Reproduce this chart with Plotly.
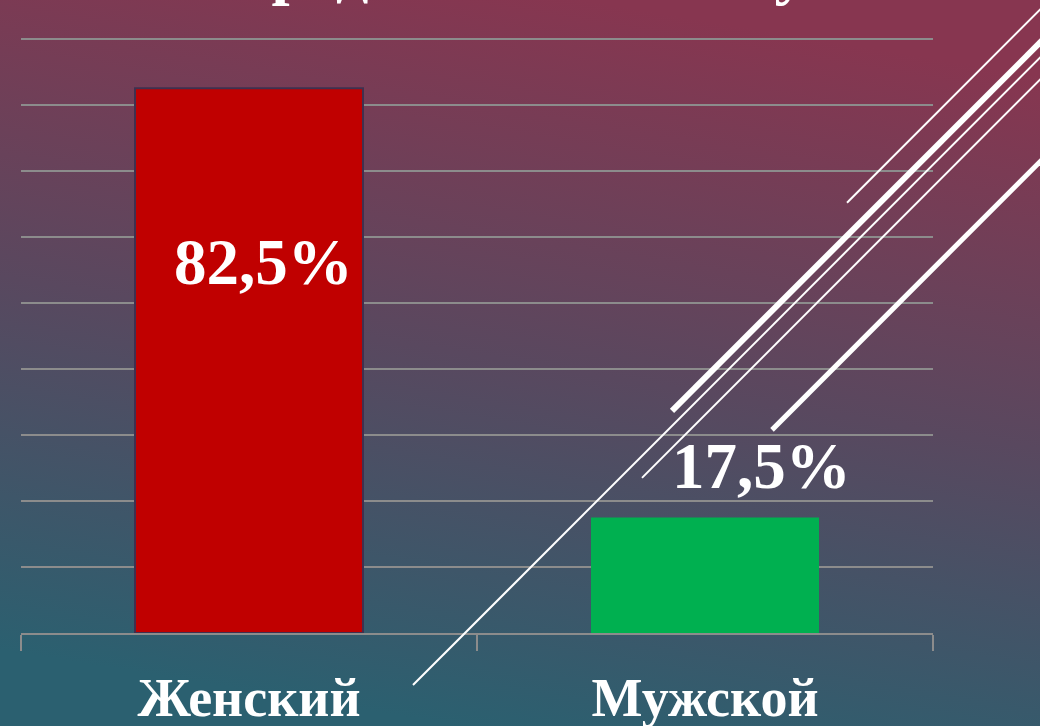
import base64
import plotly.graph_objects as go

# ---- data ----
categories = ["Женский", "Мужской"]
values = [82.5, 17.5]
bar_colors = ["#C00000", "#00B050"]
title_text = "Распределение по полу"
y_max = 90
y_step = 10

# ---- layout geometry (pixels) ----
W, H = 1040, 726
UNIT = 6.6            # pixels per percent
PAD_TOP = 1           # extra range above the top gridline (units)
ML, MR, MB = 21, 107, 93
MT = H - MB - UNIT * (y_max + PAD_TOP)
PW, PH = W - ML - MR, H - MT - MB


def px_to_paper(px, py):
    return (px - ML) / PW, (H - MB - py) / PH


# background gradient as an svg image
svg = f"""<svg xmlns='http://www.w3.org/2000/svg' width='{W}' height='{H}' viewBox='0 0 {W} {H}' preserveAspectRatio='none'>
<defs><linearGradient id='g' gradientUnits='userSpaceOnUse' x1='580' y1='0' x2='460' y2='{H}'>
<stop offset='0' stop-color='#873650'/>
<stop offset='0.5' stop-color='#59485F'/>
<stop offset='1' stop-color='#2B6070'/>
</linearGradient></defs>
<rect width='{W}' height='{H}' fill='url(#g)'/></svg>"""
bg_src = "data:image/svg+xml;base64," + base64.b64encode(svg.encode()).decode()

fig = go.Figure()
fig.add_trace(go.Bar(
    x=categories, y=values,
    marker=dict(color=bar_colors, line=dict(color=["#40304F", "rgba(0,0,0,0)"], width=[2, 0])),
    width=0.5, hoverinfo="skip",
))

serif = "Times New Roman, Liberation Serif, serif"

# value labels
label_y = [56.2, 25.3]
label_xshift = [14, 56]
annotations = []
for c, v, ly, xs in zip(categories, values, label_y, label_xshift):
    annotations.append(dict(
        x=c, y=ly, xref="x", yref="y", xshift=xs,
        text=f"{v:.1f}".replace(".", ",") + "%",
        showarrow=False, xanchor="center", yanchor="middle",
        font=dict(family=serif, size=65, color="white", weight="bold"),
    ))

# title (mostly cut off at the top, as in the reference)
tx, ty = px_to_paper(470, -30)
annotations.append(dict(
    x=tx, y=ty, xref="paper", yref="paper", text=title_text, showarrow=False,
    xanchor="center", yanchor="middle",
    font=dict(family=serif, size=65, color="white", weight="bold"),
))

# decorative diagonal lines (pixel endpoints, widths)
deco = [
    ((847, 203), (1060, -10), 2),
    ((672, 411), (1080, 3), 6),
    ((413, 685), (1080, 18), 2),
    ((642, 478), (1080, 40), 2),
    ((772, 430), (1080, 122), 5),
]
shapes = []
for (x0, y0), (x1, y1), w in deco:
    a0, b0 = px_to_paper(x0, y0)
    a1, b1 = px_to_paper(x1, y1)
    shapes.append(dict(type="line", xref="paper", yref="paper",
                       x0=a0, y0=b0, x1=a1, y1=b1,
                       line=dict(color="white", width=w), layer="above"))

ix, iy = px_to_paper(0, 0)
fig.update_layout(
    width=W, height=H,
    margin=dict(l=ML, r=MR, t=MT, b=MB, autoexpand=False),
    paper_bgcolor="#58485F", plot_bgcolor="rgba(0,0,0,0)",
    showlegend=False,
    images=[dict(source=bg_src, xref="paper", yref="paper", x=ix, y=iy,
                 sizex=W / PW, sizey=H / PH, xanchor="left", yanchor="top",
                 sizing="stretch", layer="below")],
    annotations=annotations,
    shapes=shapes,
    xaxis=dict(
        automargin=False,
        showgrid=False, showline=True, linecolor="#8C8C8C", linewidth=2,
        ticks="outside", tickson="boundaries", ticklen=16, tickwidth=2, tickcolor="#8C8C8C",
        tickfont=dict(family=serif, size=54, color="white", weight="bold"),
        ticklabelstandoff=16,
    ),
    yaxis=dict(
        automargin=False,
        range=[0, y_max + PAD_TOP], tick0=0, dtick=y_step,
        showgrid=True, gridcolor="#8C8C8C", gridwidth=2,
        showticklabels=False, zeroline=False, showline=False,
    ),
)

fig.write_html(
    "out.html",
    config={"displayModeBar": False},
    post_script="document.body.style.margin='0';document.body.style.overflow='hidden';",
)
